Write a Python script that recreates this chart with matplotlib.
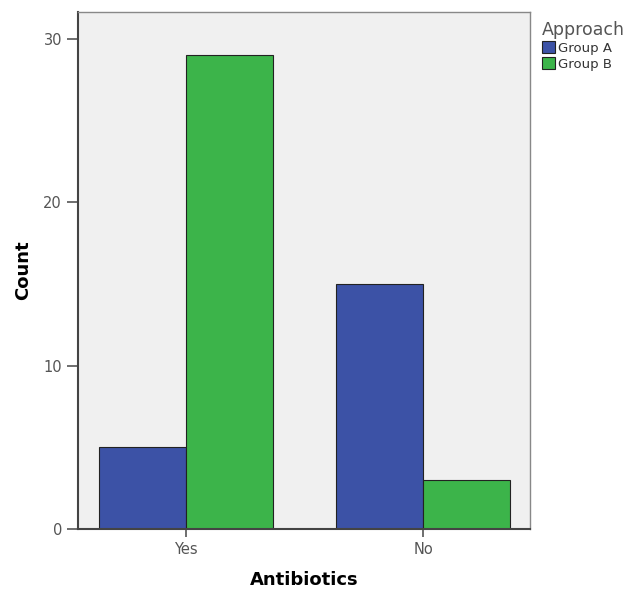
import matplotlib
matplotlib.use("Agg")
import matplotlib.pyplot as plt
import numpy as np
from matplotlib.patches import Patch

categories = ["Yes", "No"]
series_names = ["Group A", "Group B"]
group_a = [5, 15]
group_b = [29, 3]
colors = ["#3c52a6", "#3cb44a"]

fig = plt.figure(figsize=(6.29, 5.94), dpi=100)
ax = fig.add_axes([0.124, 0.1094, 0.719, 0.871])
ax.set_facecolor("#f0f0f0")

x = np.arange(len(categories))
w = 0.367
ax.bar(x - w / 2, group_a, width=w, color=colors[0], edgecolor="#222222", linewidth=0.8)
ax.bar(x + w / 2, group_b, width=w, color=colors[1], edgecolor="#222222", linewidth=0.8)

ax.set_xlim(-0.456, 1.451)
ax.set_ylim(0, 31.65)
ax.set_yticks([0, 10, 20, 30])
ax.set_xticks(x)
ax.set_xticklabels(categories)
ax.tick_params(colors="#555555", labelcolor="#555555", labelsize=10.5, length=8, width=1.2)
ax.tick_params(axis="x", length=6)
for s in ax.spines.values():
    s.set_color("#888888")
    s.set_linewidth(1.0)
ax.spines["left"].set_color("#444444")
ax.spines["left"].set_linewidth(1.5)
ax.spines["bottom"].set_color("#444444")
ax.spines["bottom"].set_linewidth(1.5)

ax.set_xlabel("Antibiotics", fontsize=13, fontweight="bold", labelpad=10)
ax.set_ylabel("Count", fontsize=13, fontweight="bold", labelpad=8)

handles = [Patch(facecolor=colors[i], edgecolor="#222222", linewidth=0.8, label=series_names[i]) for i in range(2)]
leg = fig.legend(handles=handles, title="Approach", loc="upper left",
                 bbox_to_anchor=(0.862, 0.965), frameon=False, fontsize=9.5,
                 title_fontsize=12.5, handlelength=1.0, handleheight=1.0,
                 handletextpad=0.2, labelspacing=0.2, borderaxespad=0, borderpad=0)
leg._legend_box.align = "left"
leg.get_title().set_color("#555555")
for t in leg.get_texts():
    t.set_color("#333333")

fig.savefig("out.png", dpi=100)
